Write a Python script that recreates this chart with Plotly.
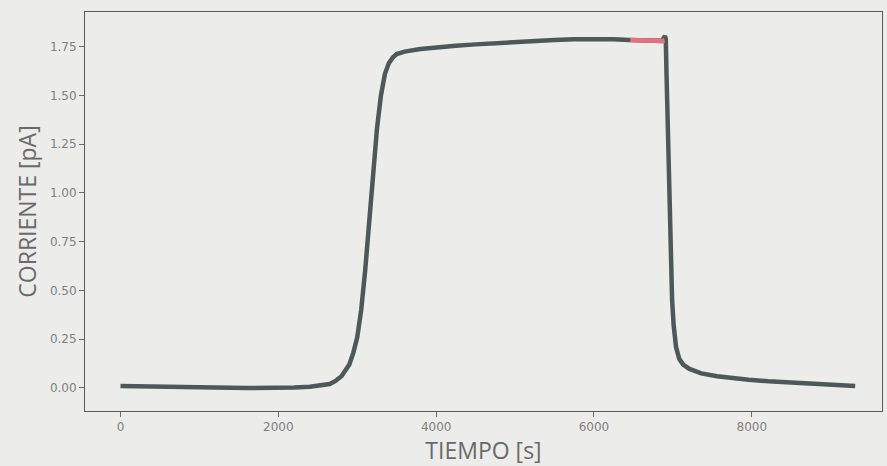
import plotly.graph_objects as go

# Time [s] and current [pA]
tiempo = [0, 200, 400, 600, 800, 1000, 1200, 1400, 1600, 1800, 2000, 2200, 2400, 2550,
          2650, 2720, 2800, 2900, 2950, 3000, 3050, 3100, 3150, 3200, 3250, 3300, 3350, 3400,
          3450, 3500, 3600, 3800, 4000, 4250, 4500, 4750, 5000, 5250, 5500, 5750, 6000,
          6250, 6450, 6650, 6860, 6900, 6910, 6920, 6935, 6950, 6970, 6990, 7010, 7040,
          7080, 7130, 7210, 7360, 7560, 7760, 7960, 8210, 8460, 8710, 8960, 9150, 9310]
corriente = [0.010, 0.008, 0.006, 0.005, 0.004, 0.003, 0.002, 0.001, 0.000, 0.000,
             0.000, 0.002, 0.006, 0.012, 0.020, 0.035, 0.060, 0.120, 0.180, 0.260,
             0.400, 0.600, 0.850, 1.100, 1.330, 1.500, 1.610, 1.665, 1.695, 1.712,
             1.725, 1.738, 1.748, 1.755, 1.762, 1.769, 1.775, 1.780, 1.785, 1.788,
             1.790, 1.788, 1.785, 1.780, 1.780, 1.805, 1.790, 1.600, 1.300, 1.000,
             0.700, 0.450, 0.320, 0.210, 0.150, 0.120, 0.098, 0.075, 0.060, 0.050,
             0.042, 0.034, 0.028, 0.023, 0.018, 0.014, 0.010]

# Highlighted (red) segment
tiempo_rojo = [6460, 6560, 6660, 6760, 6860, 6895]
corriente_rojo = [1.785, 1.782, 1.780, 1.781, 1.779, 1.782]

fig = go.Figure()
fig.add_trace(go.Scatter(x=tiempo, y=corriente, mode="lines",
                         line=dict(color="#4e5858", width=4.5), showlegend=False))
fig.add_trace(go.Scatter(x=tiempo_rojo, y=corriente_rojo, mode="lines",
                         line=dict(color="#e8707e", width=4.5), showlegend=False))

axis_common = dict(showgrid=False, zeroline=False, showline=True, mirror=True,
                   linecolor="#5a5a5a", linewidth=1, ticks="outside", ticklen=5,
                   tickcolor="#6a6a6a",
                   tickfont=dict(family="DejaVu Sans", size=12, color="#808080"))

fig.update_layout(
    width=887, height=466,
    margin=dict(l=85, r=5, t=12, b=55),
    paper_bgcolor="#ececeb", plot_bgcolor="#ececeb",
    xaxis=dict(range=[-450, 9650], tickvals=[0, 2000, 4000, 6000, 8000],
               title=dict(text="TIEMPO [s]", standoff=2,
                          font=dict(family="Open Sans", size=23, color="#6a6a6a")),
               **axis_common),
    yaxis=dict(range=[-0.118, 1.928], tickvals=[0, 0.25, 0.5, 0.75, 1.0, 1.25, 1.5, 1.75],
               tickformat=".2f",
               title=dict(text="CORRIENTE [pA]", standoff=6,
                          font=dict(family="Open Sans", size=23, color="#6a6a6a")),
               **axis_common),
)

fig.write_html("out.html")
